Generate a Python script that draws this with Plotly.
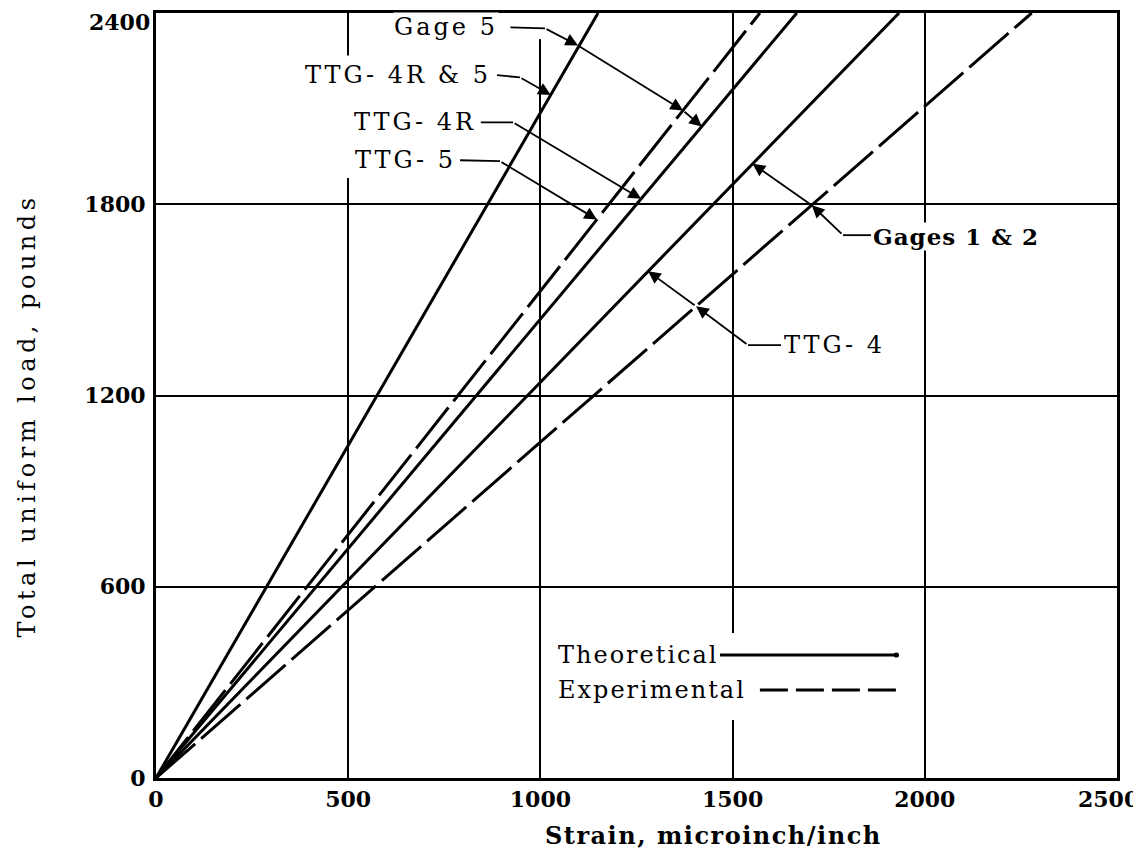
import plotly.graph_objects as go

# ---------------- data ----------------
load_lbs = [0, 2400]                 # total uniform load, pounds
# strain (microinch/inch) reached at 2400 lb for each straight line from origin
theory_gage5_strain = [0, 1150]      # steepest solid line
exp_a_strain = [0, 1571]             # dashed line (TTG-5 / Gage 5 experimental)
theory_ttg4r_strain = [0, 1667]      # solid line (TTG-4R)
theory_gages12_strain = [0, 1933]    # solid line (Gages 1 & 2 / TTG-4)
exp_b_strain = [0, 2278]             # dashed line (Gages 1 & 2 / TTG-4 experimental)

x_ticks = [0, 500, 1000, 1500, 2000, 2500]
x_tick_text = ["0", "500", "1000", "1500", "2000", ""]   # "2500" placed separately
y_ticks = [0, 600, 1200, 1800, 2400]
y_tick_text = ["0", "600", "1200", "1800", ""]           # "2400" placed separately

SERIF = "DejaVu Serif"
BLACK = "black"

fig = go.Figure()

solid_series = [theory_gage5_strain, theory_ttg4r_strain, theory_gages12_strain]
dashed_series = [exp_a_strain, exp_b_strain]

for s in solid_series:
    fig.add_trace(go.Scatter(x=s, y=load_lbs, mode="lines",
                             line=dict(color=BLACK, width=3), hoverinfo="skip"))
for s in dashed_series:
    fig.add_trace(go.Scatter(x=s, y=load_lbs, mode="lines",
                             line=dict(color=BLACK, width=3, dash="52px,8px"), hoverinfo="skip"))

shapes = []
# white patches where the gridlines are interrupted by lettering
for x0, x1, y0, y1 in [(380, 900, 1882, 2267), (990, 1012, 2318, 2400), (1025, 1948, 182, 455)]:
    shapes.append(dict(type="rect", xref="x", yref="y", x0=x0, x1=x1, y0=y0, y1=y1,
                       fillcolor="white", line=dict(width=0), layer="between"))

def seg(x0, y0, x1, y1, w=1.8, dash=None):
    d = dict(type="line", xref="x", yref="y", x0=x0, y0=y0, x1=x1, y1=y1,
             line=dict(color=BLACK, width=w), layer="above")
    if dash:
        d["line"]["dash"] = dash
    return d

# leader lines (straight parts)
shapes += [
    seg(922, 2355, 1012, 2352),   # Gage 5
    seg(887, 2205, 947, 2198),    # TTG-4R & 5
    seg(845, 2057, 929, 2057),    # TTG-4R
    seg(791, 1938, 895, 1935),    # TTG-5
    seg(1860, 1703, 1787, 1703),  # Gages 1 & 2
    seg(1626, 1358, 1540, 1358),  # TTG-4
]
# legend sample lines
shapes.append(seg(1467, 386, 1925, 386, w=3))
shapes.append(dict(type="circle", xref="x", yref="y", x0=1919, x1=1933, y0=378, y1=394,
                   fillcolor=BLACK, line=dict(width=0), layer="above"))
shapes.append(seg(1571, 276, 1928, 276, w=3, dash="28px,8px"))

annotations = []

def arrow(tx, ty, hx, hy):
    annotations.append(dict(x=hx, y=hy, ax=tx, ay=ty, xref="x", yref="y",
                            axref="x", ayref="y", text="", showarrow=True,
                            arrowhead=2, arrowsize=1.4, arrowwidth=1.8,
                            arrowcolor=BLACK, standoff=0))

# Gage 5
arrow(1012, 2352, 1098, 2298)
arrow(1098, 2298, 1371, 2094)
arrow(1371, 2094, 1420, 2044)
# TTG-4R & 5
arrow(947, 2198, 1027, 2143)
# TTG-4R
arrow(929, 2057, 1262, 1817)
# TTG-5
arrow(895, 1935, 1147, 1752)
# Gages 1 & 2
arrow(1787, 1703, 1706, 1797)
arrow(1706, 1797, 1552, 1927)
# TTG-4
arrow(1540, 1358, 1405, 1480)
arrow(1405, 1480, 1280, 1590)

def spaced(text, px):
    return '<span style="letter-spacing:%spx">%s</span>' % (px, text)

def label(x, y, text, anchor, size=24, weight="normal", ls=3):
    annotations.append(dict(x=x, y=y, xref="x", yref="y", text=spaced(text, ls), showarrow=False,
                            xanchor=anchor, yanchor="middle", bgcolor="white",
                            borderpad=0,
                            font=dict(family=SERIF, size=size, color=BLACK, weight=weight)))

label(893, 2355, "Gage 5", "right")
label(875, 2205, "TTG- 4R &amp; 5", "right")
label(836, 2057, "TTG- 4R", "right")
label(784, 1938, "TTG- 5", "right")
label(1863, 1700, "Gages 1 &amp; 2", "left", size=23, weight="bold", ls=1)
label(1631, 1358, "TTG- 4", "left")
label(1042, 386, "Theoretical", "left", ls=2)
label(1042, 276, "Experimental", "left", ls=2)

tick_font = dict(family=SERIF, size=22, color=BLACK, weight="bold")
# end tick labels, nudged inside the figure as in the reference
annotations.append(dict(x=2477, y=0, xref="x", yref="y", yshift=-21, showarrow=False,
                        text="2500", xanchor="center", yanchor="middle", font=tick_font))
annotations.append(dict(x=0, y=2400, xref="paper", yref="y", xshift=-4, yshift=-9,
                        showarrow=False, text="2400", xanchor="right", yanchor="middle",
                        font=tick_font))

# axis titles
annotations.append(dict(x=0.58, y=-0.075, xref="paper", yref="paper", showarrow=False,
                        text=spaced("Strain, microinch/inch", 1.5), xanchor="center", yanchor="middle",
                        font=dict(family=SERIF, size=24, color=BLACK, weight="bold")))
annotations.append(dict(x=-0.134, y=0.474, xref="paper", yref="paper", showarrow=False,
                        text=spaced("Total uniform load, pounds", 4.5), textangle=-90,
                        xanchor="center", yanchor="middle",
                        font=dict(family=SERIF, size=24, color=BLACK)))

axis_common = dict(showgrid=True, gridcolor=BLACK, gridwidth=2, zeroline=False,
                   showline=True, linecolor=BLACK, linewidth=3, mirror=True,
                   automargin=False, ticklabeloverflow="allow",
                   ticks="", tickfont=tick_font)

# the page body adds an 8px offset, so the figure is 8px smaller than the window
fig.update_layout(
    width=1133, height=846,
    margin=dict(l=148, r=24, t=5, b=76),
    paper_bgcolor="white", plot_bgcolor="white",
    showlegend=False,
    xaxis=dict(range=[0, 2500], tickvals=x_ticks, ticktext=x_tick_text,
               ticklabelstandoff=0, **axis_common),
    yaxis=dict(range=[0, 2400], tickvals=y_ticks, ticktext=y_tick_text,
               ticklabelstandoff=3, **axis_common),
    shapes=shapes,
    annotations=annotations,
)

fig.write_html("out.html")
